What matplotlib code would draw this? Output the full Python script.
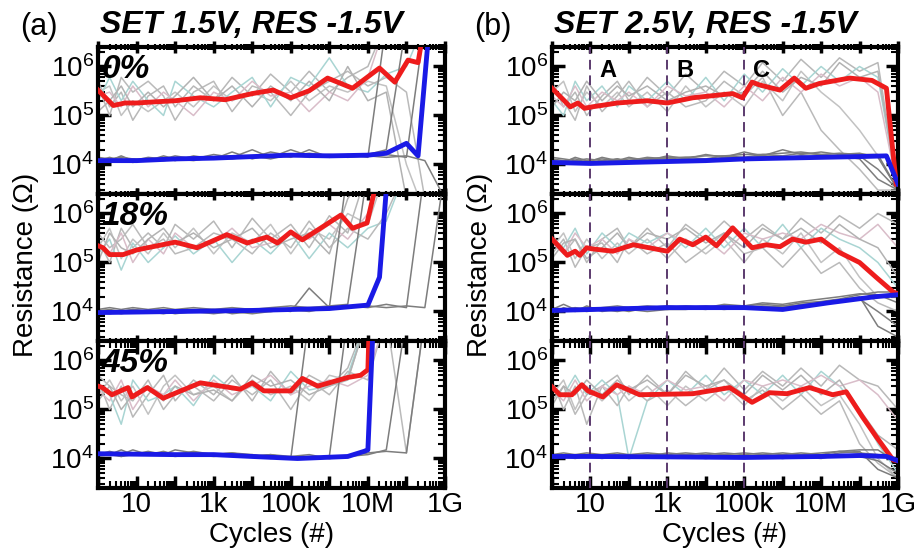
import numpy as np
import matplotlib
matplotlib.use("Agg")
import matplotlib.pyplot as plt
from matplotlib.ticker import LogLocator, NullFormatter, FixedLocator, FixedFormatter

plt.rcParams['font.family'] = ['Liberation Sans', 'DejaVu Sans']
plt.rcParams['mathtext.fontset'] = 'custom'
plt.rcParams['mathtext.rm'] = 'Liberation Sans'
plt.rcParams['mathtext.it'] = 'Liberation Sans:italic'
plt.rcParams['mathtext.bf'] = 'Liberation Sans:bold'

# ---------------- data ----------------
titles = ["SET 1.5V, RES -1.5V", "SET 2.5V, RES -1.5V"]
col_tags = ["(a)", "(b)"]
row_tags = ["0%", "18%", "45%"]
xtick_vals = [1e1, 1e3, 1e5, 1e7, 1e9]
xtick_text = ["10", "1k", "100k", "10M", "1G"]
region_x = [1e1, 1e3, 1e5]
region_tags = ["A", "B", "C"]

# common cycle grid for the individual device traces
gx = [1, 2, 4, 8, 20, 50, 100, 300, 1e3, 3e3, 1e4, 3e4, 1e5, 3e5, 1e6, 3e6, 1e7, 3e7, 1e8, 3e8, 1e9]

# (a) 0%
a1_h1 = [5e5, 1.5e5, 3e5, 8e4, 2.5e5, 4e5, 1.5e5, 4e5, 2e5, 6e5, 2.5e5, 7e5, 3e5, 8e5, 3e5, 6e5, 1e6, 8e6, 8e6, 8e6, 8e6]
a1_h2 = [3e5, 4e5, 1e5, 2e5, 1.2e5, 2e5, 3e5, 1.5e5, 4e5, 2e5, 3e5, 2e5, 5e5, 2e5, 4e5, 3e5, 5e5, 4e5, 1e4, 1e3, 1e3]
a1_h3 = [2e5, 6e5, 2e5, 5e5, 2e5, 1e5, 5e5, 2.5e5, 1.5e5, 3e5, 6e5, 1.5e5, 6e5, 4e5, 1.5e6, 4e5, 3e5, 7e5, 1e6, 8e6, 8e6]
a1_h4 = [4e5, 1e5, 6e5, 3e5, 5e5, 2.5e5, 8e4, 3e5, 5e5, 1.2e5, 4e5, 3e5, 1e5, 3e5, 5e5, 8e5, 4e5, 6e5, 3e5, 2e3, 1e3]
a1_h5 = [2.5e5, 3e5, 1.5e5, 4e5, 1.5e5, 3e5, 2e5, 1e5, 3e5, 2e5, 5e5, 2.5e5, 3e5, 1.2e5, 3e5, 2e5, 6e5, 8e6, 8e6, 8e6, 8e6]
a1_h6 = [1.2e5, 2e5, 4e5, 1.5e5, 3e5, 1.5e5, 2.5e5, 6e5, 2e5, 4e5, 1.5e5, 4e5, 2e5, 5e5, 2e5, 1e6, 2e5, 3e5, 2e3, 1e3, 1e3]
a1_l1 = [1.3e4, 1.2e4, 1.5e4, 1.2e4, 1.4e4, 1.3e4, 1.5e4, 1.3e4, 1.6e4, 1.4e4, 2e4, 1.4e4, 2e4, 1.5e4, 1.6e4, 1.5e4, 1.6e4, 2e4, 8e6, 8e6, 8e6]
a1_l2 = [1.2e4, 1.4e4, 1.2e4, 1.3e4, 1.2e4, 1.4e4, 1.2e4, 1.5e4, 1.3e4, 1.8e4, 1.3e4, 1.6e4, 1.4e4, 2e4, 1.4e4, 1.6e4, 1.4e4, 8e6, 8e6, 8e6, 8e6]
a1_l3 = [1.1e4, 1.2e4, 1.3e4, 1.1e4, 1.3e4, 1.2e4, 1.3e4, 1.2e4, 1.4e4, 1.3e4, 1.5e4, 1.3e4, 1.6e4, 1.4e4, 1.5e4, 1.4e4, 1.5e4, 1.6e4, 1.4e4, 8e6, 8e6]
a1_l4 = [1.4e4, 1.3e4, 1.4e4, 1.3e4, 1.2e4, 1.5e4, 1.3e4, 1.4e4, 1.4e4, 1.5e4, 1.4e4, 1.8e4, 1.5e4, 1.7e4, 1.5e4, 1.5e4, 1.5e4, 1.4e4, 1.5e4, 1.2e4, 2e3]
a1_red_x = [1, 2.5, 5, 10, 30, 100, 450, 2e3, 1e4, 3.5e4, 1e5, 3e5, 9e5, 4e6, 2e7, 5e7, 1.1e8, 2e8, 3e8]
a1_red_y = [3.3e5, 1.6e5, 1.8e5, 1.8e5, 1.9e5, 2e5, 2.3e5, 2.1e5, 2.8e5, 3.3e5, 2.3e5, 3.2e5, 5.8e5, 3.6e5, 9.3e5, 4.8e5, 1.35e6, 1.2e6, 8e6]
a1_blue_x = [1, 10, 100, 1e3, 1e4, 1e5, 1e6, 1e7, 3e7, 1e8, 2e8, 4e8]
a1_blue_y = [1.2e4, 1.2e4, 1.3e4, 1.35e4, 1.45e4, 1.55e4, 1.5e4, 1.55e4, 1.7e4, 2.7e4, 1.5e4, 8e6]

# (a) 18%
a2_h1 = [3e5, 1e5, 5e5, 2e5, 4e5, 2e5, 6e5, 3e5, 7e5, 2e5, 8e5, 3e5, 6e5, 2e5, 9e5, 4e5, 8e6, 8e6, 8e6, 8e6, 8e6]
a2_h2 = [2e5, 5e5, 1.2e5, 3e5, 1.5e5, 4e5, 2e5, 5e5, 1.5e5, 4e5, 2.5e5, 6e5, 1.5e5, 5e5, 3e5, 1e6, 6e5, 8e6, 8e6, 8e6, 8e6]
a2_h3 = [1.5e5, 3e5, 7e4, 2.5e5, 1e5, 2e5, 3.5e5, 1.5e5, 3e5, 1e5, 3e5, 1.5e5, 4e5, 1.2e5, 4e5, 2e5, 5e5, 7e5, 8e6, 8e6, 8e6]
a2_h4 = [4e5, 2e5, 3e5, 6e5, 2e5, 3e5, 1.5e5, 2e5, 4e5, 3e5, 1.5e5, 4e5, 2e5, 7e5, 2e5, 5e5, 3e5, 1e6, 8e6, 8e6, 8e6]
a2_h5 = [2.5e5, 1.5e5, 4e5, 1e5, 3e5, 1.5e5, 4e5, 2e5, 2.5e5, 5e5, 2e5, 2.5e5, 4e5, 3e5, 6e5, 3e5, 1e6, 8e6, 8e6, 8e6, 8e6]
a2_h6 = [1e5, 4e5, 2e5, 1.5e5, 3e5, 5e5, 2.5e5, 4e5, 2e5, 3e5, 5e5, 2e5, 3e5, 4e5, 1.5e5, 2e6, 8e6, 8e6, 8e6, 8e6, 8e6]
a2_l1 = [1e4, 1.1e4, 1e4, 1.1e4, 1e4, 1.1e4, 1e4, 1e4, 1.1e4, 9e3, 1e4, 1.1e4, 1e4, 3e4, 1.2e4, 8e6, 8e6, 8e6, 8e6, 8e6, 8e6]
a2_l2 = [9e3, 1e4, 9e3, 1e4, 9.5e3, 1e4, 9e3, 1e4, 9e3, 1e4, 9e3, 1e4, 1.1e4, 1e4, 1.2e4, 1.3e4, 1.2e4, 1.4e4, 1.2e4, 8e6, 8e6]
a2_l3 = [1.1e4, 1.2e4, 1.1e4, 1.2e4, 1.1e4, 1.2e4, 1.1e4, 1.2e4, 1.1e4, 1.2e4, 1.1e4, 1.2e4, 1.3e4, 1.2e4, 1.3e4, 1.4e4, 8e6, 8e6, 8e6, 8e6, 8e6]
a2_l4 = [1e4, 9e3, 1e4, 1.1e4, 1e4, 9e3, 1e4, 1.1e4, 1e4, 1e4, 1.1e4, 1e4, 1.1e4, 1.2e4, 1.1e4, 1.2e4, 1.3e4, 1.2e4, 1.3e4, 1.2e4, 8e6]
a2_red_x = [1, 1.35, 2, 4.5, 10, 100, 370, 2.2e3, 7.4e3, 2.4e4, 4.5e4, 1e5, 2e5, 2e6, 4e6, 9.5e6, 2e7]
a2_red_y = [2.2e5, 2e5, 1.45e5, 1.45e5, 1.8e5, 2.6e5, 2e5, 3.7e5, 2.5e5, 3.3e5, 2.5e5, 4.2e5, 2.9e5, 9.3e5, 5e5, 6.4e5, 8e6]
a2_blue_x = [1, 100, 1e4, 1e6, 1e7, 2e7, 3.3e7]
a2_blue_y = [9.5e3, 1e4, 1.05e4, 1.15e4, 1.35e4, 5e4, 8e6]

# (a) 45%
a3_h1 = [4e5, 1e5, 3e5, 7e4, 2e5, 5e5, 1.5e5, 4e5, 2e5, 5e5, 1.5e5, 6e5, 2e5, 5e5, 3e5, 7e5, 8e6, 8e6, 8e6, 8e6, 8e6]
a3_h2 = [2e5, 4e5, 1.5e5, 3e5, 8e4, 3e5, 5e5, 2e5, 3e5, 1.5e5, 4e5, 2e5, 3e5, 1.5e5, 5e5, 4e5, 8e6, 8e6, 8e6, 8e6, 8e6]
a3_h3 = [3e5, 2e5, 5e4, 4e5, 1.5e5, 2e5, 3e5, 1.2e5, 5e5, 2.5e5, 3e5, 1.5e5, 6e5, 2.5e5, 3e5, 5e5, 8e6, 8e6, 8e6, 8e6, 8e6]
a3_h4 = [5e5, 3e5, 2e5, 1.5e5, 4e5, 1e5, 2e5, 3e5, 1.5e5, 4e5, 2e5, 4e5, 1e5, 4e5, 2e5, 6e5, 4e5, 8e6, 1.3e4, 8e6, 8e6]
a3_h5 = [2.5e5, 1.5e5, 4e5, 1e5, 3e5, 2e5, 4e5, 1.5e5, 4e5, 2e5, 3e5, 5e5, 2e5, 3e5, 4e5, 3e5, 5e5, 8e6, 8e6, 8e6, 8e6]
a3_h6 = [1.5e5, 3e5, 1e5, 2e5, 3e5, 1.5e5, 3e5, 2e5, 2.5e5, 1.5e5, 5e5, 3e5, 4e5, 2e5, 3e5, 4e5, 8e6, 8e6, 8e6, 8e6, 8e6]
a3_l1 = [1.3e4, 1.2e4, 1.5e4, 1.2e4, 1.4e4, 1.2e4, 1.5e4, 1.3e4, 1.2e4, 1.3e4, 1.1e4, 1.2e4, 1e4, 8e6, 8e6, 8e6, 8e6, 8e6, 8e6, 8e6, 8e6]
a3_l2 = [1.2e4, 1.4e4, 1.2e4, 1.5e4, 1.2e4, 1.3e4, 1.2e4, 1.4e4, 1.2e4, 1.3e4, 1.2e4, 1e4, 1.1e4, 1e4, 1.1e4, 8e6, 8e6, 8e6, 8e6, 8e6, 8e6]
a3_l3 = [1.1e4, 1.2e4, 1.1e4, 1.2e4, 1.3e4, 1.2e4, 1.1e4, 1.2e4, 1.1e4, 1.2e4, 1.1e4, 1.2e4, 1.1e4, 1.2e4, 1e4, 1.1e4, 1.3e4, 1.4e4, 1.3e4, 8e6, 8e6]
a3_l4 = [1.2e4, 1.3e4, 1.1e4, 1.3e4, 1.2e4, 1.4e4, 1.2e4, 1.3e4, 1.2e4, 1.1e4, 1.2e4, 1.1e4, 1e4, 1.1e4, 1e4, 1.1e4, 1.2e4, 1.5e4, 8e6, 8e6, 8e6]
a3_red_x = [1, 1.3, 2.3, 6, 7.6, 19, 49, 450, 4.9e3, 1e4, 2e4, 1e5, 2e5, 5e5, 3e6, 6.5e6, 1e7, 1.1e7]
a3_red_y = [3e5, 2.8e5, 2e5, 2.8e5, 1.8e5, 2.8e5, 1.7e5, 3.5e5, 2.6e5, 3.5e5, 2.4e5, 2.4e5, 4.3e5, 3e5, 4.5e5, 5e5, 6.5e5, 8e6]
a3_blue_x = [1, 100, 1e3, 1e4, 1.5e5, 3e6, 8e6, 1e7, 1.4e7]
a3_blue_y = [1.25e4, 1.2e4, 1.2e4, 1.1e4, 1e4, 1.1e4, 1.4e4, 1.5e4, 8e6]

# (b) 0%
b1_h1 = [5e5, 1.5e5, 3e5, 1e5, 2.5e5, 5e5, 2e5, 6e5, 2.5e5, 7e5, 3e5, 8e5, 4e5, 1.2e6, 5e5, 1.4e6, 6e5, 1.5e6, 8e5, 1.2e6, 3e3]
b1_h2 = [3e5, 5e5, 1.2e5, 3e5, 1.5e5, 3e5, 1.5e5, 3e5, 1.2e5, 4e5, 1.5e5, 3e5, 1.5e5, 5e5, 2e5, 8e5, 3e5, 1.5e5, 5e4, 1.5e4, 3e3]
b1_h3 = [2e5, 1e5, 5e5, 2e5, 4e5, 1.5e5, 4e5, 2e5, 5e5, 2e5, 6e5, 2e5, 7e5, 3e5, 9e5, 4e5, 1e6, 5e5, 1e6, 6e5, 3e3]
b1_h4 = [4e5, 2e5, 8e4, 4e5, 1.2e5, 2.5e5, 5e5, 1.5e5, 3e5, 1.5e5, 2e5, 5e5, 2.5e5, 6e5, 1e5, 3e5, 5e4, 2e4, 8e3, 3e3, 3e3]
b1_h5 = [2.5e5, 1.5e5, 4e5, 1.5e5, 3e5, 2e5, 3e5, 1.5e5, 4e5, 2.5e5, 3e5, 1.5e5, 4e5, 2e5, 6e5, 3e5, 7e5, 4e5, 6e5, 3e5, 3e3]
b1_h6 = [1.5e5, 3e5, 2e5, 5e5, 2e5, 4e5, 2.5e5, 4e5, 2e5, 3e5, 4e5, 2.5e5, 3e5, 8e5, 3e5, 6e5, 4e5, 1.2e6, 6e5, 8e5, 3e3]
b1_l1 = [1.2e4, 1.1e4, 1.4e4, 1.2e4, 1.3e4, 1.2e4, 1.4e4, 1.2e4, 1.5e4, 1.3e4, 1.6e4, 1.4e4, 1.8e4, 1.5e4, 2e4, 1.6e4, 1.8e4, 1.6e4, 1.7e4, 1.4e4, 3e3]
b1_l2 = [1e4, 1.2e4, 1.1e4, 1.2e4, 1.1e4, 1.3e4, 1.1e4, 1.3e4, 1.2e4, 1.3e4, 1.2e4, 1.4e4, 1.3e4, 1.5e4, 1.4e4, 1.5e4, 1.4e4, 1.5e4, 1.3e4, 5e3, 3e3]
b1_l3 = [1.4e4, 1.3e4, 1.2e4, 1.3e4, 1.2e4, 1.3e4, 1.2e4, 1.4e4, 1.3e4, 1.4e4, 1.3e4, 1.5e4, 1.4e4, 1.6e4, 1.5e4, 1.7e4, 1.6e4, 1.7e4, 1.6e4, 1.6e4, 3e3]
b1_l4 = [1.3e4, 1.2e4, 1.3e4, 1.1e4, 1.4e4, 1.2e4, 1.3e4, 1.3e4, 1.4e4, 1.4e4, 1.5e4, 1.5e4, 1.6e4, 1.6e4, 1.7e4, 1.8e4, 1.6e4, 1.5e4, 1.5e4, 8e3, 3e3]
b1_red_x = [1, 3, 4.7, 7, 11, 50, 300, 1e3, 4.6e3, 5e4, 9e4, 1.6e5, 2.5e5, 8.5e5, 2e6, 4e6, 9e6, 5.5e7, 2.1e8, 5e8, 9e8]
b1_red_y = [3.6e5, 1.5e5, 1.8e5, 1.4e5, 1.5e5, 1.8e5, 2e5, 1.8e5, 2.3e5, 2.8e5, 2.3e5, 4.8e5, 4.2e5, 3.3e5, 5.8e5, 3.6e5, 4.5e5, 5.8e5, 5.2e5, 3.6e5, 4e3]
b1_blue_x = [1, 10, 100, 1e3, 1e4, 1e5, 1e6, 1e7, 1e8, 5e8, 1e9]
b1_blue_y = [1.1e4, 1.05e4, 1.1e4, 1.15e4, 1.2e4, 1.3e4, 1.35e4, 1.4e4, 1.45e4, 1.5e4, 4e3]

# (b) 18%
b2_h1 = [4e5, 1.5e5, 3e5, 1e5, 3e5, 5e5, 2e5, 5e5, 2e5, 6e5, 3e5, 7e5, 3e5, 6e5, 3e5, 8e5, 4e5, 9e5, 5e5, 1e6, 6e5]
b2_h2 = [2e5, 4e5, 1.2e5, 3e5, 1.2e5, 2.5e5, 1.5e5, 3e5, 1.2e5, 3e5, 1.5e5, 3e5, 1e5, 3e5, 1.5e5, 4e5, 1e5, 2e5, 5e4, 2e4, 2e4]
b2_h3 = [3e5, 2e5, 5e5, 1.5e5, 4e5, 2e5, 4e5, 2.5e5, 4e5, 2e5, 5e5, 2e5, 5e5, 2e5, 6e5, 2e5, 5e5, 3e5, 2e5, 1e5, 3e4]
b2_h4 = [1.5e5, 3e5, 8e4, 2e5, 2.5e5, 1e5, 3e5, 1.5e5, 2.5e5, 1e5, 2e5, 4e5, 1.5e5, 2e5, 8e4, 2e5, 6e4, 1e5, 3e4, 1.5e4, 1e4]
b2_h5 = [2.5e5, 1.5e5, 4e5, 2e5, 3e5, 1.5e5, 3e5, 2e5, 4e5, 2.5e5, 3e5, 1.5e5, 4e5, 3e5, 4e5, 3e5, 6e5, 4e5, 3e5, 6e5, 2e5]
b2_h6 = [1.2e5, 2.5e5, 3e5, 1.2e5, 2e5, 4e5, 2e5, 4e5, 3e5, 5e5, 2.5e5, 4e5, 2e5, 5e5, 3e5, 5e5, 2.5e5, 6e5, 3e5, 2e5, 5e4]
b2_l1 = [1.1e4, 1.4e4, 1.1e4, 1.2e4, 1.1e4, 1.2e4, 1.1e4, 1.2e4, 1.3e4, 1.2e4, 1.3e4, 1.2e4, 1.3e4, 1.4e4, 1.3e4, 1.5e4, 1.6e4, 1.8e4, 2.2e4, 2.5e4, 2.5e4]
b2_l2 = [1e4, 1e4, 1.1e4, 1e4, 1.1e4, 1e4, 1.1e4, 1e4, 1.1e4, 1.1e4, 1.2e4, 1.1e4, 1.2e4, 1.2e4, 1.3e4, 1.3e4, 1.4e4, 1.6e4, 1.8e4, 1e4, 5e3]
b2_l3 = [9e3, 1.2e4, 1e4, 1.3e4, 1e4, 1.1e4, 1e4, 1.2e4, 1.1e4, 1.2e4, 1.1e4, 1.3e4, 1.2e4, 1.3e4, 1.2e4, 1.4e4, 1.5e4, 1.7e4, 2e4, 5e3, 3e3]
b2_l4 = [1.2e4, 1.1e4, 1.2e4, 1.1e4, 1.2e4, 1.3e4, 1.2e4, 1.3e4, 1.2e4, 1.3e4, 1.2e4, 1.4e4, 1.3e4, 1.5e4, 1.4e4, 1.6e4, 1.8e4, 2e4, 2.3e4, 2.2e4, 1.5e4]
b2_red_x = [1, 1.2, 2.5, 4, 5.3, 8, 11, 38, 130, 1e3, 2.1e3, 4.6e3, 1e4, 1.9e4, 5e4, 1.6e5, 3.8e5, 8.5e5, 1.8e6, 4e6, 1e7, 3e7, 1e8, 2.7e8, 7.5e8, 1e9]
b2_red_y = [3e5, 2.6e5, 1.4e5, 1.7e5, 1.4e5, 2e5, 1.9e5, 1.7e5, 2.3e5, 1.7e5, 3e5, 2.3e5, 3.3e5, 2.2e5, 5.1e5, 2e5, 2.3e5, 2.1e5, 3e5, 2.6e5, 3e5, 1.6e5, 1e5, 5e4, 2.5e4, 2.3e4]
b2_blue_x = [1, 1e3, 1e5, 1e6, 1.5e7, 2.5e8, 1e9]
b2_blue_y = [1.05e4, 1.2e4, 1.2e4, 1.1e4, 1.5e4, 2e4, 2.2e4]

# (b) 45%
b3_h1 = [4e5, 1e5, 3e5, 5e4, 3e5, 5e5, 2e5, 5e5, 2e5, 6e5, 2.5e5, 7e5, 2.5e5, 6e5, 3e5, 7e5, 3e5, 8e5, 4e5, 3e5, 1e5]
b3_h2 = [2e5, 4e5, 1e5, 3e5, 1.5e5, 3e5, 1.5e5, 3e5, 1.2e5, 3e5, 1.5e5, 3e5, 1.2e5, 3e5, 1.5e5, 3e5, 1.2e5, 2e5, 5e4, 1e4, 4e3]
b3_h3 = [3e5, 2e5, 5e5, 2e5, 4e5, 2e5, 1e4, 1.5e5, 4e5, 2e5, 5e5, 2e5, 4e5, 2e5, 5e5, 2e5, 6e5, 3e5, 1e5, 2e4, 5e3]
b3_h4 = [1.5e5, 3e5, 8e4, 2e5, 3e5, 1.2e5, 3e5, 1.5e5, 2.5e5, 1.2e5, 2.5e5, 4e5, 1.5e5, 2.5e5, 1e5, 2e5, 8e4, 1.5e5, 2e4, 8e3, 4e3]
b3_h5 = [2.5e5, 1.5e5, 4e5, 1.5e5, 3e5, 2e5, 3e5, 2e5, 4e5, 2.5e5, 3e5, 1.5e5, 4e5, 3e5, 4e5, 3e5, 5e5, 3e5, 4e5, 2e5, 6e4]
b3_h6 = [1.2e5, 3e5, 2e5, 4e5, 2e5, 4e5, 2.5e5, 4e5, 2e5, 5e5, 3e5, 4e5, 2e5, 5e5, 2.5e5, 5e5, 2e5, 4e5, 1e5, 3e4, 1.5e4]
b3_l1 = [1.1e4, 1.2e4, 1.1e4, 1.2e4, 1.1e4, 1.2e4, 1.1e4, 1.2e4, 1.1e4, 1.2e4, 1.1e4, 1.2e4, 1.1e4, 1.2e4, 1.1e4, 1.2e4, 1.1e4, 1.3e4, 1.4e4, 6e3, 4e3]
b3_l2 = [1e4, 1.1e4, 1e4, 1.1e4, 1e4, 1.1e4, 1e4, 1.1e4, 1e4, 1.1e4, 1e4, 1.1e4, 1e4, 1.1e4, 1e4, 1.1e4, 1e4, 1.2e4, 1.1e4, 9e3, 5e3]
b3_l3 = [1.2e4, 1.3e4, 1.2e4, 1.3e4, 1.2e4, 1.3e4, 1.2e4, 1.3e4, 1.2e4, 1.3e4, 1.2e4, 1.3e4, 1.2e4, 1.3e4, 1.2e4, 1.3e4, 1.2e4, 1.4e4, 1.3e4, 1.2e4, 9e3]
b3_l4 = [1.2e4, 1.1e4, 1.2e4, 1.1e4, 1.2e4, 1.1e4, 1.2e4, 1.1e4, 1.3e4, 1.2e4, 1.3e4, 1.2e4, 1.3e4, 1.2e4, 1.3e4, 1.2e4, 1.3e4, 1.4e4, 1.5e4, 1.5e4, 8e3]
b3_red_x = [1, 1.6, 3.3, 6, 8.6, 21, 48, 190, 4.6e3, 4.2e4, 1.6e5, 4.6e5, 1.3e6, 5e6, 2e7, 4.5e7, 1.2e8, 2.7e8, 7.5e8, 1e9]
b3_red_y = [2.9e5, 2e5, 2e5, 3.2e5, 2.4e5, 1.8e5, 3.2e5, 2e5, 2.1e5, 2.8e5, 1.4e5, 2.2e5, 2.1e5, 2.8e5, 2e5, 2.3e5, 7e4, 2.8e4, 9.3e3, 9e3]
b3_blue_x = [1, 10, 1e3, 1e5, 1e7, 1e8, 5e8, 1e9]
b3_blue_y = [1.1e4, 1.1e4, 1.08e4, 1.05e4, 1.1e4, 1.15e4, 1.1e4, 9e3]

panels = [
    [  # column (a)
        ([a1_h1, a1_h2, a1_h3, a1_h4, a1_h5, a1_h6], [a1_l1, a1_l2, a1_l3, a1_l4],
         a1_red_x, a1_red_y, a1_blue_x, a1_blue_y),
        ([a2_h1, a2_h2, a2_h3, a2_h4, a2_h5, a2_h6], [a2_l1, a2_l2, a2_l3, a2_l4],
         a2_red_x, a2_red_y, a2_blue_x, a2_blue_y),
        ([a3_h1, a3_h2, a3_h3, a3_h4, a3_h5, a3_h6], [a3_l1, a3_l2, a3_l3, a3_l4],
         a3_red_x, a3_red_y, a3_blue_x, a3_blue_y),
    ],
    [  # column (b)
        ([b1_h1, b1_h2, b1_h3, b1_h4, b1_h5, b1_h6], [b1_l1, b1_l2, b1_l3, b1_l4],
         b1_red_x, b1_red_y, b1_blue_x, b1_blue_y),
        ([b2_h1, b2_h2, b2_h3, b2_h4, b2_h5, b2_h6], [b2_l1, b2_l2, b2_l3, b2_l4],
         b2_red_x, b2_red_y, b2_blue_x, b2_blue_y),
        ([b3_h1, b3_h2, b3_h3, b3_h4, b3_h5, b3_h6], [b3_l1, b3_l2, b3_l3, b3_l4],
         b3_red_x, b3_red_y, b3_blue_x, b3_blue_y),
    ],
]

# ---------------- figure ----------------
W, H = 921, 550
fig = plt.figure(figsize=(W / 100, H / 100), dpi=100)

col_left = [98, 552]
col_width = [347, 346]
row_top = [47, 194, 341]
row_h = 147

hrs_colors = ['#b8b8b8', '#c2c2c2', '#a9d5d3', '#bababa', '#d9bdc9', '#b2b2b2']
lrs_color = '#7d7d7d'

for c in range(2):
    for r in range(3):
        hrs, lrs, rx, ry, bx, by = panels[c][r]
        ax = fig.add_axes([col_left[c] / W, 1 - (row_top[r] + row_h) / H,
                           col_width[c] / W, row_h / H])
        ax.set_xscale('log')
        ax.set_yscale('log')

        for i, tr in enumerate(hrs):
            ax.plot(gx, tr, color=hrs_colors[i], lw=1.1, zorder=2)
        for tr in lrs:
            ax.plot(gx, tr, color=lrs_color, lw=1.1, zorder=2)
        ax.plot(rx, ry, color='#ee1c1c', lw=3.5, zorder=5, solid_joinstyle='round')
        ax.plot(bx, by, color='#1a1ae6', lw=3.5, zorder=5, solid_joinstyle='round')

        ax.set_xlim(1, 1e9)
        ax.set_ylim(2.5e3, 2.5e6)

        # ticks
        ax.xaxis.set_major_locator(FixedLocator([10.0 ** k for k in range(0, 10)]))
        ax.xaxis.set_minor_locator(LogLocator(base=10, subs=np.arange(2, 10), numticks=20))
        ax.xaxis.set_minor_formatter(NullFormatter())
        if r == 2:
            labels = [xtick_text[xtick_vals.index(10.0 ** k)] if 10.0 ** k in xtick_vals else ''
                      for k in range(0, 10)]
            ax.xaxis.set_major_formatter(FixedFormatter(labels))
        else:
            ax.xaxis.set_major_formatter(NullFormatter())
        ax.yaxis.set_major_locator(FixedLocator([1e4, 1e5, 1e6]))
        ax.yaxis.set_minor_locator(LogLocator(base=10, subs=np.arange(2, 10), numticks=20))
        ax.yaxis.set_minor_formatter(NullFormatter())

        xdir = 'in' if r == 2 else 'inout'
        ax.tick_params(axis='x', which='both', top=True, bottom=True, direction=xdir)
        ax.tick_params(axis='y', which='both', left=True, right=True, direction='in')
        ax.tick_params(which='major', length=9, width=2.5, labelsize=20, pad=3)
        ax.tick_params(which='minor', length=5, width=1.5)
        for s in ax.spines.values():
            s.set_linewidth(3)

        if c == 0:
            ax.text(0.01, 0.95, row_tags[r], transform=ax.transAxes, ha='left', va='top',
                    fontsize=24, fontweight='bold', fontstyle='italic', zorder=6)

        if c == 1:
            for j, xv in enumerate(region_x):
                ax.axvline(xv, color='#5b3a6e', lw=1.4, ls=(0, (5, 3)), zorder=4)
                if r == 0:
                    ax.text(xv * 1.7, 0.92, region_tags[j], transform=ax.get_xaxis_transform(),
                            ha='left', va='top', fontsize=17, fontweight='bold', zorder=6)

# column titles / labels
for c in range(2):
    fig.text((col_left[c] - 78) / W, 1 - 27 / H, col_tags[c], fontsize=22,
             ha='left', va='center')
    fig.text((col_left[c] + 2) / W, 1 - 25 / H, titles[c], fontsize=23,
             fontweight='bold', fontstyle='italic', ha='left', va='center')
    fig.text((col_left[c] + col_width[c] / 2) / W, 1 - 535 / H, "Cycles (#)",
             fontsize=20, ha='center', va='center')
    fig.text((col_left[c] - 72) / W, 1 - 265 / H, "Resistance (Ω)", fontsize=20,
             rotation=90, ha='center', va='center')

fig.savefig("out.png", dpi=100)
